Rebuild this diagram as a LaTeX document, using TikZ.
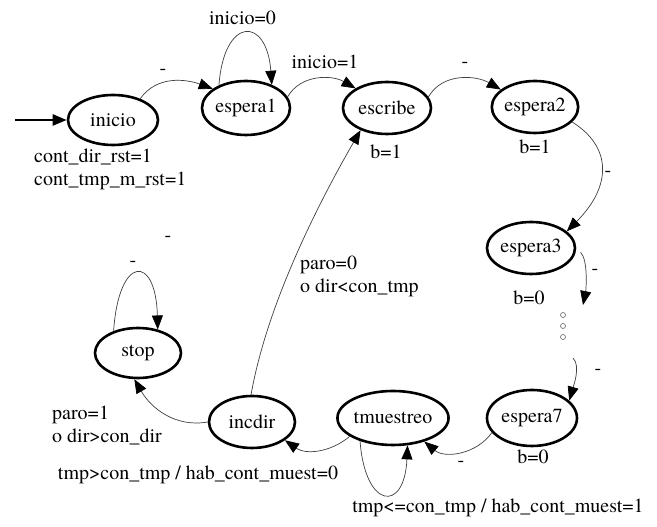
\documentclass[tikz,border=0pt]{standalone}
\usepackage{fontspec}
\setmainfont{texgyretermes}[Extension=.otf,UprightFont=*-regular,BoldFont=*-bold,ItalicFont=*-italic,BoldItalicFont=*-bolditalic]
\usetikzlibrary{shapes.geometric,arrows.meta}
\begin{document}
\begin{tikzpicture}[x=1pt,y=1pt,
  font=\fontsize{20}{23}\selectfont,
  state/.style={ellipse,draw,line width=2.6pt,inner sep=0pt},
  edge/.style={line width=0.7pt,draw=black!75,-{Triangle[length=14pt,width=11pt,black]}},
  lbl/.style={inner sep=0pt},
  dotc/.style={circle,draw=black!60,line width=0.6pt,minimum size=5pt,inner sep=0pt}]
\useasboundingbox[fill=white] (0,0) rectangle (657,527);

% states
\node[state,minimum width=90pt,minimum height=50pt] (inicio) at (113,407) {inicio};
\node[state,minimum width=88pt,minimum height=54pt] (espera1) at (246,419) {espera1};
\node[state,minimum width=88pt,minimum height=52pt] (escribe) at (387,419) {escribe};
\node[state,minimum width=86pt,minimum height=52pt] (espera2) at (535,420) {espera2};
\node[state,minimum width=88pt,minimum height=52pt] (espera3) at (531,279) {espera3};
\node[state,minimum width=86pt,minimum height=50pt] (stop) at (138,174) {stop};
\node[state,minimum width=86pt,minimum height=52pt] (incdir) at (252,105) {incdir};
\node[state,minimum width=86pt,minimum height=54pt] (tmuestreo) at (393,109) {tmuestreo};
\node[state,minimum width=90pt,minimum height=56pt] (espera7) at (532,109) {espera7};

% dots
\node[dotc] (dot1) at (563,212) {};
\node[dotc] (dot2) at (563,201) {};
\node[dotc] (dot3) at (563,190) {};
\coordinate (d1) at (583,222);
\coordinate (d2) at (573,169);
\coordinate (start) at (15,407);

% initial arrow
\draw[line width=2.5pt,-{Triangle[length=14pt,width=11pt]}] (start) -- (inicio.west);

% edges
\draw[edge] (inicio.38) to[out=55,in=160] (espera1.150);
\draw[edge] (espera1.140) .. controls +(5,69) and +(-5,69) .. (espera1.42);
\draw[edge] (espera1.15) to[out=60,in=150] (escribe.148);
\draw[edge] (escribe.15) to[out=60,in=150] (espera2.153);
\draw[edge] (espera2.-22) .. controls +(40,-25) and +(45,45) .. (espera3.25);
\draw[edge,shorten <=6pt] (espera3.east) .. controls +(12,-12) and +(3,15) .. (d1);
\draw[edge] (d2) .. controls +(8,-8) and +(4,14) .. (espera7.25);
\draw[edge] (espera7.200) to[out=235,in=-40] (tmuestreo.-37);
\draw[edge] (tmuestreo.215) .. controls +(5,-68) and +(-3,-68) .. (tmuestreo.-62);
\draw[edge] (tmuestreo.203) to[out=220,in=-35] (incdir.-29);
\draw[edge] (incdir.west) to[out=190,in=-60] (stop.262);
\draw[edge] (incdir.92) to[out=80,in=240,looseness=0.8] (escribe.220);
\draw[edge] (stop.138) .. controls +(5,76) and +(-2,76) .. (stop.50);

% labels
\node[lbl] (l1) at (242.5,509) {inicio=0};
\node[lbl] (l2) at (163,455) {-};
\node[lbl] (l3) at (325,465) {inicio=1};
\node[lbl] (l4) at (465,462) {-};
\node[lbl] (l5) at (386,375) {b=1};
\node[lbl] (l6) at (535,380) {b=1};
\node[lbl] (l7) at (608,353) {-};
\node[lbl] (l8) at (595,255) {-};
\node[lbl] (l9) at (529,229) {b=0};
\node[lbl] (l10) at (598,155) {-};
\node[lbl] (l11) at (533,70) {b=0};
\node[lbl] (l12) at (461,63) {-};
\node[lbl] (l13) at (168,288) {-};
\node[lbl] (l14) at (133,263) {-};
\node[lbl,anchor=west,align=left] (l15) at (300,251) {paro=0\\o dir<con\_tmp};
\node[lbl,anchor=west,align=left] (l16) at (52,102) {paro=1\\o dir>con\_dir};
\node[lbl,anchor=west,align=left] (l17) at (34,358) {cont\_dir\_rst=1\\cont\_tmp\_m\_rst=1};
\node[lbl] (l18) at (198,52) {tmp>con\_tmp / hab\_cont\_muest=0};
\node[lbl] (l19) at (498,19) {tmp<=con\_tmp / hab\_cont\_muest=1};
\end{tikzpicture}
\end{document}
